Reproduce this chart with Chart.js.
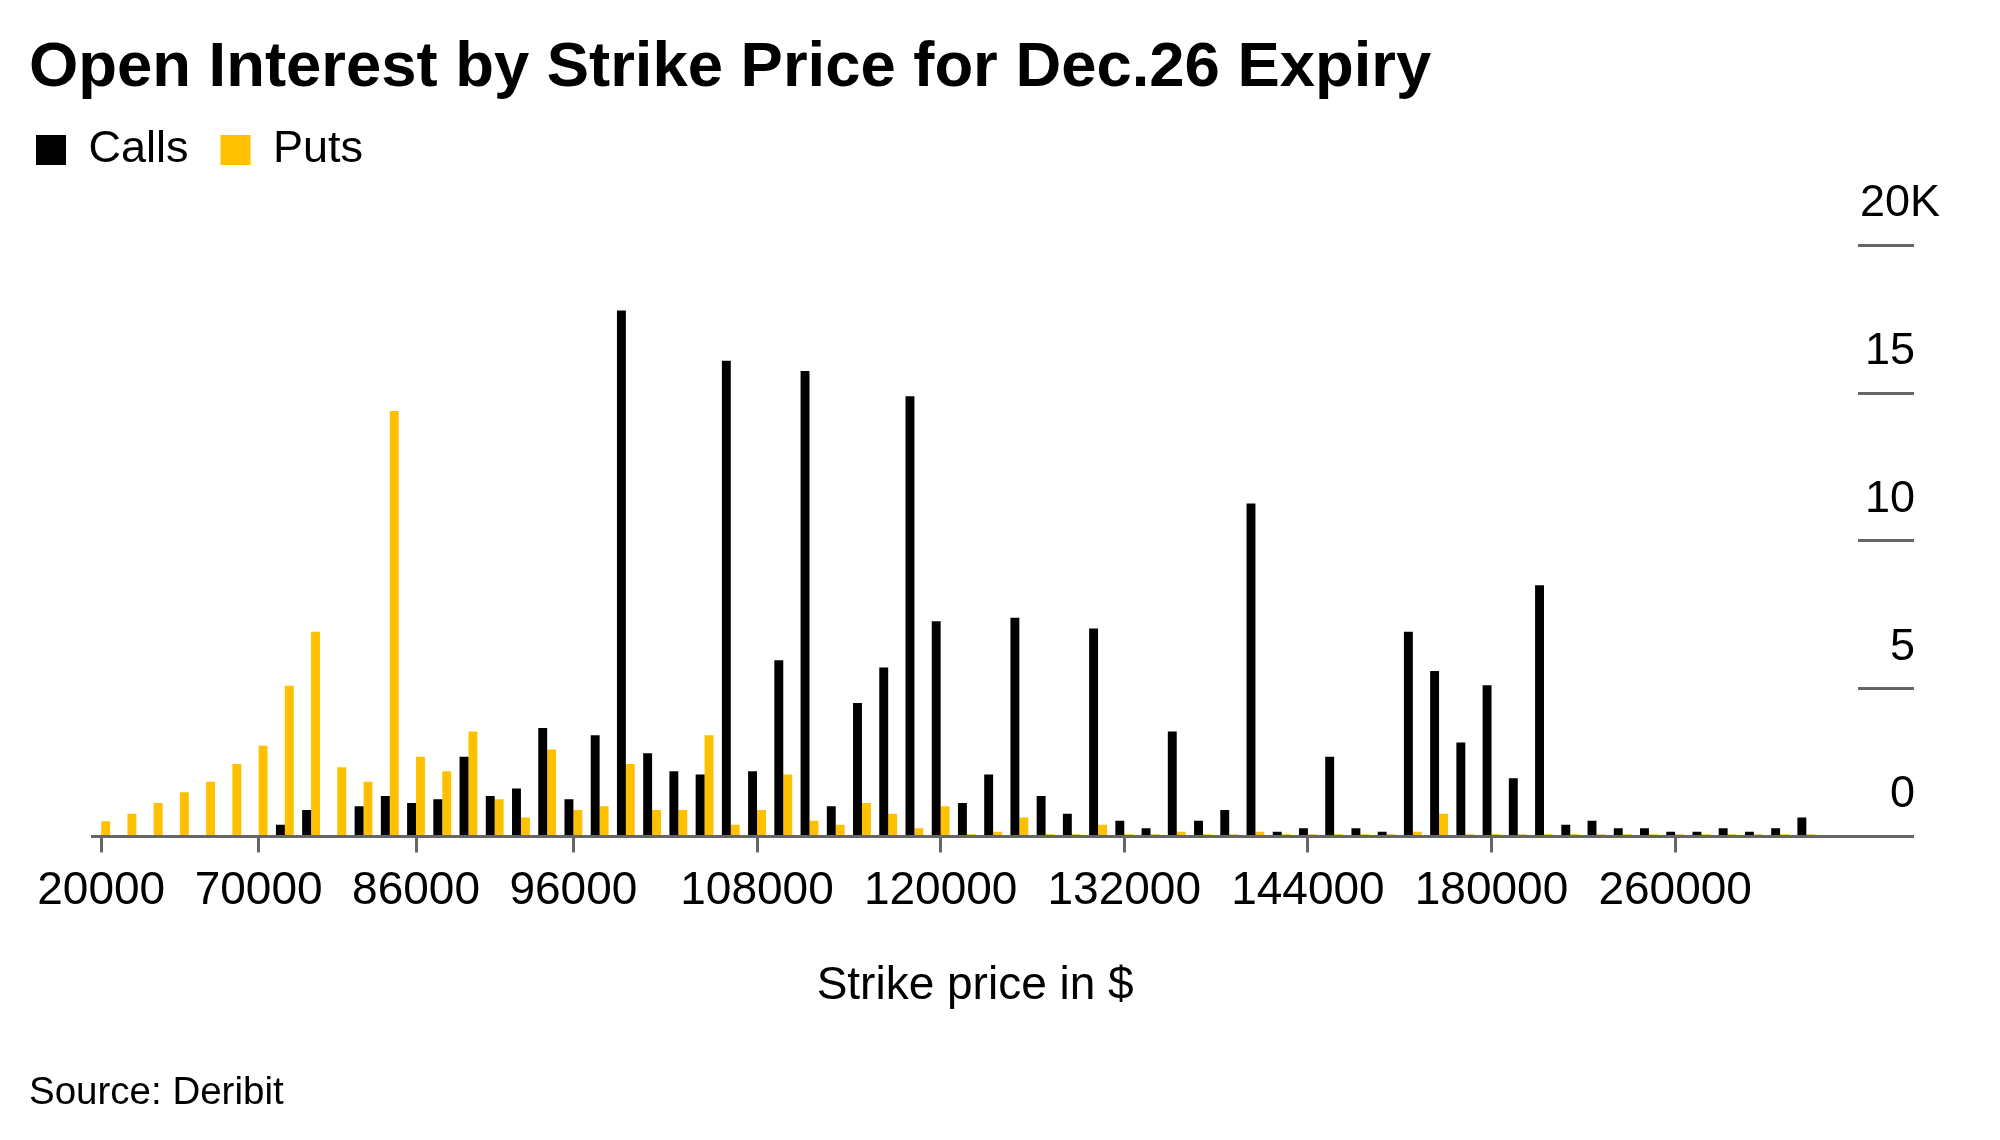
<!DOCTYPE html>
<html>
<head>
<meta charset="utf-8">
<script src="https://cdn.jsdelivr.net/npm/chart.js@4.4.1/dist/chart.umd.min.js"></script>
<style>
html,body{margin:0;padding:0;background:#fff;}
#wrap{width:2000px;height:1140px;position:relative;}
</style>
</head>
<body>
<div id="wrap"><canvas id="c"></canvas></div>
<script>
// Strike prices (categories)
const strikes = [20000,30000,40000,50000,55000,60000,70000,75000,80000,82000,
  84000,85000,86000,88000,90000,92000,94000,95000,96000,98000,
  100000,101000,102000,104000,105000,108000,109000,110000,112000,113000,
  114000,115000,120000,122000,124000,125000,126000,128000,130000,132000,
  134000,135000,136000,138000,140000,142000,144000,145000,146000,148000,
  150000,160000,170000,180000,190000,200000,210000,220000,230000,240000,
  260000,280000,300000,320000,350000,400000];
// Open interest, thousands of contracts
const calls = [0.05,0.05,0.05,0.05,0.05,0,0.05,0.4,0.9,0,
  1.02,1.37,1.13,1.26,2.7,1.37,1.62,3.67,1.26,3.43,
  17.8,2.82,2.21,2.1,16.1,2.21,5.96,15.75,1.02,4.52,
  5.72,14.9,7.28,1.13,2.1,7.4,1.37,0.77,7.04,0.53,
  0.28,3.55,0.53,0.9,11.27,0.16,0.28,2.7,0.28,0.16,
  6.93,5.6,3.18,5.12,1.97,8.5,0.4,0.53,0.28,0.28,
  0.16,0.16,0.28,0.16,0.28,0.64];
const puts = [0.52,0.77,1.13,1.5,1.85,2.45,3.07,5.1,6.93,2.34,
  1.85,14.4,2.7,2.21,3.55,1.26,0.64,2.94,0.9,1.02,
  2.45,0.9,0.9,3.43,0.4,0.9,2.1,0.53,0.4,1.13,
  0.77,0.28,1.02,0.08,0.16,0.64,0.08,0.08,0.4,0.08,
  0.08,0.16,0.08,0.08,0.16,0.08,0.08,0.08,0.08,0.08,
  0.16,0.77,0.08,0.08,0.08,0.08,0.08,0.08,0.08,0.08,
  0.08,0.08,0.08,0.08,0.08,0.08];
// Labelled strikes (indices into strikes)
const tickIndex = [0,6,12,18,25,32,39,46,53,60];
const yTicks = [0,5,10,15,20];

const FONT = "'Liberation Sans', Arial, Helvetica, sans-serif";
Chart.defaults.font.family = FONT;
Chart.defaults.color = '#000';

new Chart(document.getElementById('c'), {
  type: 'bar',
  data: {
    datasets: [
      {label: 'Calls', data: calls.map((v, i) => ({x: i, y: v})), backgroundColor: '#000000', borderWidth: 0, xAxisID: 'x', yAxisID: 'y'},
      {label: 'Puts', data: puts.map((v, i) => ({x: i, y: v})), backgroundColor: '#FFC000', borderWidth: 0, xAxisID: 'x', yAxisID: 'y'}
    ]
  },
  options: {
    responsive: true,
    maintainAspectRatio: false,
    animation: false,
    layout: {padding: {left: 29, right: 60, top: 0, bottom: 0}},
    datasets: {bar: {categoryPercentage: 0.68, barPercentage: 1.0, grouped: true}},
    plugins: {
      tooltip: {enabled: false},
      title: {
        display: true,
        text: 'Open Interest by Strike Price for Dec.26 Expiry',
        align: 'start',
        color: '#000',
        font: {size: 63.4, weight: 'bold'},
        padding: {top: 30, bottom: 14.4}
      },
      legend: {
        display: true,
        position: 'top',
        align: 'start',
        labels: {
          boxWidth: 30,
          boxHeight: 30,
          padding: 7,
          color: '#000',
          font: {size: 45},
          generateLabels: (chart) => Chart.defaults.plugins.legend.labels.generateLabels(chart)
            .map(l => Object.assign(l, {text: l.text + '\u00a0\u00a0'}))
        }
      },
      subtitle: {
        display: true,
        position: 'bottom',
        align: 'start',
        text: 'Source: Deribit',
        color: '#000',
        font: {size: 38.5, weight: 'normal'},
        padding: {top: 0, bottom: 23.4}
      }
    },
    scales: {
      x: {
        type: 'linear',
        position: 'bottom',
        min: -0.34,
        max: 66.97,
        bounds: 'data',
        offset: false,
        afterBuildTicks: (s) => { s.ticks = tickIndex.map(v => ({value: v})); },
        ticks: {
          autoSkip: false, maxRotation: 0, minRotation: 0, padding: 11,
          color: '#000', font: {size: 46},
          callback: (v) => String(strikes[v])
        },
        grid: {display: true, offset: false, drawOnChartArea: false, drawTicks: true, tickLength: 16,
               tickColor: '#666', tickWidth: 3, color: '#666', lineWidth: 3},
        border: {display: true, color: '#666', width: 3},
        title: {display: true, text: 'Strike price in $', color: '#000', font: {size: 46},
                padding: {top: 28.7, bottom: 56.8}}
      },
      y: {
        type: 'linear',
        position: 'right',
        min: 0,
        max: 22.13,
        bounds: 'data',
        afterBuildTicks: (s) => { s.ticks = yTicks.map(v => ({value: v})); },
        afterFit: (s) => { s.width = 82; },
        ticks: {
          autoSkip: false, align: 'end', crossAlign: 'far', padding: -54, labelOffset: -19,
          color: '#000', font: {size: 45},
          callback: (v) => v === 20 ? '20K' : v + '\u00a0\u00a0'
        },
        grid: {display: true, offset: false, drawOnChartArea: false, drawTicks: true, tickLength: 56,
               tickColor: '#666', tickWidth: 3, color: '#666', lineWidth: 3},
        border: {display: false}
      },
      yPad: {
        type: 'linear',
        position: 'left',
        display: true,
        ticks: {display: false},
        grid: {display: false},
        border: {display: false},
        afterFit: (s) => { s.width = 63.3; }
      }
    }
  }
});
</script>
</body>
</html>
